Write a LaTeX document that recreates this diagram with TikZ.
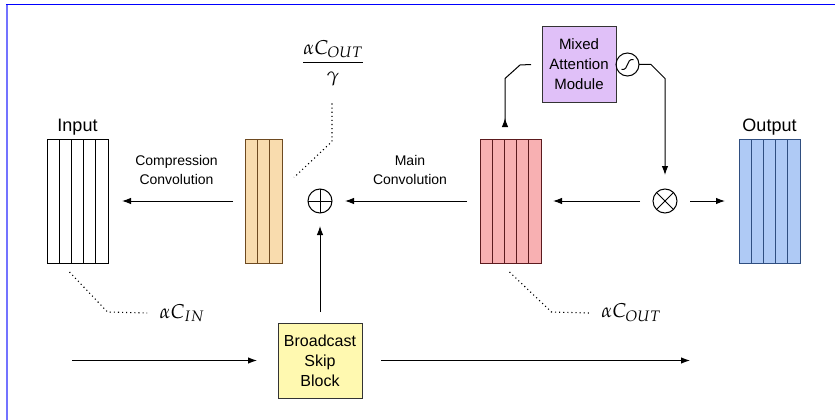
\documentclass[tikz,border=0pt]{standalone}
\usepackage{amsmath}
\usepackage{mathpazo}
\usepackage{fontspec}
\setmainfont{Liberation Sans}
\usepackage{tikz}
\usetikzlibrary{arrows.meta,calc,positioning}
\definecolor{orgfill}{HTML}{F9DCAE}
\definecolor{orgline}{HTML}{6E4A20}
\definecolor{redfill}{HTML}{F8B0B2}
\definecolor{redline}{HTML}{5C1A1E}
\definecolor{bluefill}{HTML}{AFCAF5}
\definecolor{blueline}{HTML}{2F4E80}
\definecolor{mamfill}{HTML}{E0C0F8}
\definecolor{bsbfill}{HTML}{FFF9B0}
\tikzset{
  fmap/.style      = {draw, line width=1pt, minimum height=124pt, inner sep=0pt, outer sep=0pt},
  widemap/.style   = {fmap, minimum width=61pt},
  thinmap/.style   = {fmap, minimum width=37pt},
  block/.style     = {draw=black!80, line width=1pt, align=center, inner sep=0pt, outer sep=0pt, minimum height=75pt},
  opnode/.style    = {draw, circle, line width=1pt, minimum size=24pt, inner sep=0pt, outer sep=0pt},
  line/.style      = {-{Latex[length=9pt,width=6.5pt]}, line width=1pt},
  revline/.style   = {{Latex[length=9pt,width=6.5pt,reversed]}-, line width=1pt},
  dotline/.style   = {line width=1.1pt, dash pattern=on 1.1pt off 3pt},
  maplabel/.style  = {font=\fontsize{18}{21}\selectfont},
  convlabel/.style = {align=center, font=\fontsize{14}{19}\selectfont},
  mathlabel/.style = {font=\fontsize{20}{24}\selectfont},
}
% vertical stripes of a feature map
\newcommand{\fmapstripes}[3]{%
  \pgfmathtruncatemacro\nlast{#2-1}
  \foreach \k in {1,...,\nlast}
    \draw[#3, line width=1pt] ($(#1.north west)!{\k/#2}!(#1.north east)$) -- ($(#1.south west)!{\k/#2}!(#1.south east)$);
}

\begin{document}
\begin{tikzpicture}[x=1pt, y=-1pt]
    \useasboundingbox (0,0) rectangle (835,420);
    % Frame
    \draw[blue!55, line width=2pt] (7,5) -- (7,420);
    \draw[blue, line width=1pt] (6,5) -- (835,5);

    % Feature maps
    \node[widemap, fill=white] (inp) at (77.5,201) {};
    \node[thinmap, fill=orgfill, draw=orgline, right=137pt of inp] (org) {};
    \node[opnode, right=26pt of org] (op) {};
    \node[widemap, fill=redfill, draw=redline, right=148pt of op] (red) {};
    \node[opnode, right=112pt of red] (ot) {};
    \node[widemap, fill=bluefill, draw=blueline, right=62pt of ot] (outp) {};
    \fmapstripes{inp}{5}{black}
    \fmapstripes{org}{3}{orgline}
    \fmapstripes{red}{5}{redline}
    \fmapstripes{outp}{5}{blueline}
    \node[maplabel, above=0pt of inp] (inlbl) {Input};
    \node[maplabel, above=0pt of outp] (outlbl) {Output};

    % Operators
    \draw[line width=1pt] (op.north) -- (op.south) (op.west) -- (op.east);
    \draw[line width=1pt] (ot.north west) -- (ot.south east) (ot.north east) -- (ot.south west);

    % Blocks
    \node[block, fill=bsbfill, minimum width=84pt, below=110pt of op, font=\fontsize{16}{20}\selectfont] (bsb) {Broadcast\\Skip\\Block};
    \node[block, fill=mamfill, minimum width=74pt, above=37pt of red.north east, anchor=south west, xshift=1pt, font=\fontsize{15}{20}\selectfont] (mam) {Mixed\\Attention\\Module};
    \node[opnode, minimum size=23pt, right=0pt of mam] (sg) {};
    \draw[line width=1pt] ($(sg)+(-6,5)$) .. controls ($(sg)+(2,6)$) and ($(sg)+(-2,-6)$) .. ($(sg)+(6,-5)$);

    % Convolution labels
    \node[convlabel] (cconv) at ($(inp.east)!0.5!(org.west)+(0,-31)$) {Compression\\Convolution};
    \node[convlabel] (mconv) at ($(op.east)!0.5!(red.west)+(4,-31)$) {Main\\Convolution};

    % Edges: main path
    \draw[line] ([xshift=-12pt]org.west) -- ([xshift=14pt]inp.east);
    \draw[line] ([xshift=-13pt]red.west) -- ([xshift=13pt]op.east);
    \draw[line] ([xshift=-13pt]ot.west) -- ([xshift=12pt]red.east);
    \draw[line] ([xshift=13pt]ot.east) -- ([xshift=-14pt]outp.west);
    \draw[line] ([yshift=11pt]bsb.north) -- ([yshift=-13pt]op.south);

    % Edges: skip path
    \coordinate[left=206pt of bsb.west] (skipin);
    \coordinate[right=328pt of bsb.east] (skipout);
    \draw[line] (skipin) -- ([xshift=-21pt]bsb.west);
    \draw[line] ([xshift=19pt]bsb.east) -- (skipout);

    % Edges: attention
    \draw[revline] ([xshift=-5.5pt,yshift=12pt]red.north) -- ++(0,-48.5) -- ++(15,-13.5) -- ([xshift=-11pt]mam.west);
    \draw[line] (sg.east) -- ++(12,0) -- ++(14,14) -- ([yshift=14pt]ot.north);

    % Channel annotations
    \node[mathlabel] (cin) at (182,313) {$\alpha C_{IN}$};
    \node[mathlabel] (cout) at (631,313) {$\alpha C_{OUT}$};
    \node[mathlabel] (cfrac) at (333,63) {$\dfrac{\alpha C_{OUT}}{\gamma}$};
    \draw[dotline] ([xshift=-8pt,yshift=-9pt]inp.south) -- ++(38,40) -- ([xshift=-9pt]cin.west);
    \draw[dotline] ([xshift=-1pt,yshift=-9pt]red.south) -- ++(42,40) -- ([xshift=-9pt]cout.west);
    \draw[dotline] ([xshift=-1pt,yshift=-14pt]cfrac.south) -- ++(0,38) -- ++(-38,36);
\end{tikzpicture}
\end{document}
